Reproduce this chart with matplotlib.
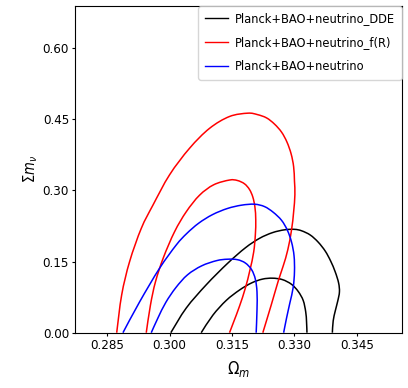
# contour plot: Omega_m vs sum m_nu, three data combinations
import matplotlib
matplotlib.use('Agg')
import numpy as np
from matplotlib import pyplot as plt
from matplotlib.path import Path
from matplotlib.patches import PathPatch
from matplotlib.lines import Line2D

# ---------------------------------------------------------
# contour outlines (Omega_m, sum m_nu)
dde_2s_x = [0.3003, 0.3040, 0.3088, 0.3139, 0.3182, 0.3216, 0.3247, 0.3276, 0.3300, 0.3317,
            0.3338, 0.3357, 0.3374, 0.3387, 0.3398, 0.3406, 0.3408, 0.3404, 0.3398, 0.3393,
            0.3391]
dde_2s_y = [0.000, 0.052, 0.101, 0.146, 0.179, 0.199, 0.211, 0.217, 0.218, 0.215,
            0.206, 0.191, 0.172, 0.151, 0.128, 0.105, 0.086, 0.067, 0.046, 0.025,
            0.000]
dde_1s_x = [0.3076, 0.3104, 0.3136, 0.3168, 0.3197, 0.3223, 0.3247, 0.3271, 0.3293, 0.3309,
            0.3321, 0.3327, 0.3329, 0.3330]
dde_1s_y = [0.000, 0.037, 0.068, 0.090, 0.105, 0.113, 0.115, 0.112, 0.102, 0.087,
            0.068, 0.044, 0.023, 0.000]

fr_2s_x = [0.2873, 0.2885, 0.2904, 0.2932, 0.2960, 0.3000, 0.3048, 0.3096, 0.3144, 0.3188,
           0.3211, 0.3233, 0.3252, 0.3269, 0.3282, 0.3292, 0.3298, 0.3300, 0.3301, 0.3298,
           0.3293, 0.3284, 0.3273, 0.3261, 0.3244, 0.3224]
fr_2s_y = [0.000, 0.080, 0.150, 0.220, 0.269, 0.333, 0.389, 0.431, 0.456, 0.463,
           0.460, 0.453, 0.440, 0.423, 0.402, 0.377, 0.350, 0.320, 0.291, 0.255,
           0.217, 0.175, 0.141, 0.109, 0.058, 0.000]
fr_1s_x = [0.2944, 0.2954, 0.2966, 0.2985, 0.3012, 0.3040, 0.3072, 0.3106, 0.3144, 0.3163,
           0.3180, 0.3192, 0.3200, 0.3205, 0.3207, 0.3206, 0.3202, 0.3193, 0.3182, 0.3168,
           0.3154, 0.3144]
fr_1s_y = [0.000, 0.058, 0.107, 0.158, 0.213, 0.255, 0.290, 0.312, 0.322, 0.321,
           0.314, 0.302, 0.286, 0.265, 0.238, 0.206, 0.170, 0.132, 0.094, 0.056,
           0.023, 0.000]

nu_2s_x = [0.2888, 0.2928, 0.2976, 0.3016, 0.3041, 0.3070, 0.3103, 0.3139, 0.3173, 0.3204,
           0.3228, 0.3249, 0.3269, 0.3283, 0.3293, 0.3299, 0.3300, 0.3297, 0.3289, 0.3281,
           0.3274]
nu_2s_y = [0.000, 0.065, 0.136, 0.185, 0.209, 0.231, 0.249, 0.262, 0.269, 0.271,
           0.266, 0.254, 0.237, 0.216, 0.191, 0.162, 0.129, 0.096, 0.063, 0.031,
           0.000]
nu_1s_x = [0.2956, 0.2972, 0.2991, 0.3015, 0.3043, 0.3077, 0.3113, 0.3139, 0.3163, 0.3182,
           0.3197, 0.3206, 0.3210, 0.3210, 0.3208]
nu_1s_y = [0.000, 0.031, 0.064, 0.095, 0.122, 0.141, 0.152, 0.155, 0.154, 0.147,
           0.133, 0.113, 0.086, 0.048, 0.000]

labels = ['Planck+BAO+neutrino_DDE', 'Planck+BAO+neutrino_f(R)', 'Planck+BAO+neutrino']
colors = ['black', 'red', 'blue']
xticks = [0.285, 0.300, 0.315, 0.330, 0.345]
yticks = [0.00, 0.15, 0.30, 0.45, 0.60]


def smooth_path(xs, ys):
    # Catmull-Rom through the read points, drawn as cubic Bezier segments
    p = np.column_stack([xs, ys])
    q = np.vstack([p[:1], p, p[-1:]])
    verts, codes = [p[0]], [Path.MOVETO]
    for i in range(len(p) - 1):
        c1 = q[i + 1] + (q[i + 2] - q[i]) / 6.
        c2 = q[i + 2] - (q[i + 3] - q[i + 1]) / 6.
        verts += [c1, c2, q[i + 2]]
        codes += [Path.CURVE4] * 3
    return Path(verts, codes)


# ---------------------------------------------------------
plt.rcParams['font.family'] = ['DejaVu Sans']
plt.rcParams['font.stretch'] = 'condensed'
plt.rcParams['mathtext.fontset'] = 'dejavusans'

fig = plt.figure(figsize=(4.08, 3.88), dpi=100)
ax = fig.add_axes([0.184, 0.1425, 0.801, 0.842])

lw = 1.1
curves = [(dde_2s_x, dde_2s_y, 0), (dde_1s_x, dde_1s_y, 0),
          (fr_2s_x, fr_2s_y, 1), (fr_1s_x, fr_1s_y, 1),
          (nu_2s_x, nu_2s_y, 2), (nu_1s_x, nu_1s_y, 2)]
for xs, ys, k in curves:
    ax.add_patch(PathPatch(smooth_path(xs, ys), facecolor='none',
                           edgecolor=colors[k], lw=lw))

ax.set_xlim(0.2773, 0.3558)
ax.set_ylim(0.0, 0.689)
ax.set_xticks(xticks)
ax.set_xticklabels([f'{v:.3f}' for v in xticks], fontsize=9.5)
ax.set_yticks(yticks)
ax.set_yticklabels([f'{v:.2f}' for v in yticks], fontsize=9.5)
ax.tick_params(length=2.5, width=0.8, pad=1.8)
ax.set_xlabel(r'$\Omega_m$', fontsize=12, labelpad=5)
ax.set_ylabel(r'$\Sigma m_\nu$', fontsize=10.5, labelpad=2)

handles = [Line2D([], [], color=c, lw=1.0) for c in colors]
ax.legend(handles, labels, loc='upper right', fontsize=9.2, borderaxespad=0.0,
          handlelength=1.8, handletextpad=0.6, labelspacing=0.85, borderpad=0.5)

fig.savefig('out.png', dpi=100)
